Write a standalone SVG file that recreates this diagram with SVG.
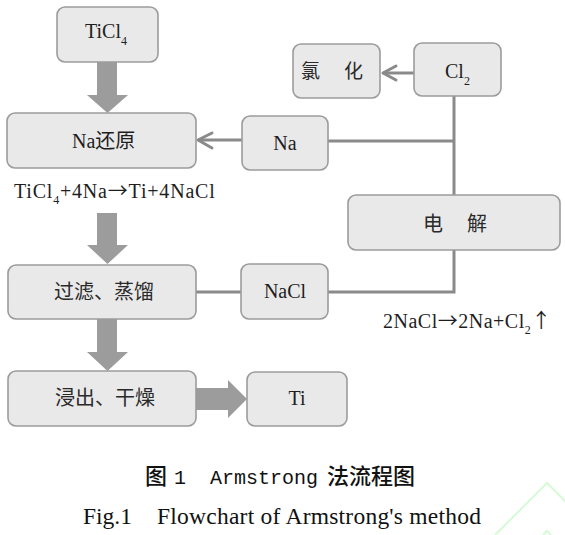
<svg xmlns="http://www.w3.org/2000/svg" width="565" height="535" viewBox="0 0 565 535">
<style>
.box{fill:#e9e9e9;stroke:#9c9c9c;stroke-width:1.6}
.lat{font-family:"Liberation Serif","Noto Sans CJK SC",serif;font-size:20px;fill:#1e1e1e}
.cjk{font-family:"Noto Sans CJK SC",sans-serif;font-size:20px;fill:#2a2a2a}
.sub{font-size:12px}
.arr{font-family:"Noto Sans CJK SC",sans-serif}
.con{fill:none;stroke:#8a8a8a;stroke-width:3;stroke-linejoin:miter}
.chev{fill:none;stroke:#8a8a8a;stroke-width:3;stroke-linecap:round;stroke-linejoin:round}
.big{fill:#9c9c9c}
</style>
<rect width="565" height="535" fill="#ffffff"/>
<g id="connectors">
<polygon class="big" points="97,62 117,62 117,95 128,95 107.5,113 87,95 97,95"/>
<polygon class="big" points="97,213 117,213 117,245 128,245 107.5,264 87,245 97,245"/>
<polygon class="big" points="97,319 117,319 117,352 128,352 107.5,371 87,352 97,352"/>
<polygon class="big" points="196,388 228,388 228,380 247,399 228,418 228,410 196,410"/>
<line class="con" x1="414" y1="73" x2="383" y2="73"/>
<polyline class="chev" points="396,66 383,73 396,80"/>
<line class="con" x1="242" y1="140" x2="198" y2="140"/>
<polyline class="chev" points="212,133 198,140 212,148"/>
<line class="con" x1="454" y1="96" x2="454" y2="195"/>
<line class="con" x1="328" y1="141" x2="454" y2="141"/>
<polyline class="con" points="454,250 454,292 328,292"/>
<line class="con" x1="241" y1="292" x2="196" y2="292"/>
</g>
<g id="n-ticl4"><rect class="box" x="57" y="7" width="101" height="55" rx="8"/><text class="lat" x="85" y="38">TiCl<tspan class="sub" dy="7">4</tspan></text></g>
<g id="n-nared"><rect class="box" x="7" y="113" width="189" height="55" rx="8"/><text class="lat" x="72" y="148">Na还原</text></g>
<g id="n-na"><rect class="box" x="242" y="116" width="86" height="54" rx="8"/><text class="lat" x="285" y="150" text-anchor="middle">Na</text></g>
<g id="n-chlor"><rect class="box" x="293" y="44" width="87" height="54" rx="8"/><text class="cjk" y="78" style="font-size:19px"><tspan x="301">氯</tspan><tspan x="344">化</tspan></text></g>
<g id="n-cl2"><rect class="box" x="414" y="43" width="87" height="53" rx="8"/><text class="lat" x="445" y="78">Cl<tspan class="sub" dy="7">2</tspan></text></g>
<g id="n-elec"><rect class="box" x="348" y="195" width="212" height="55" rx="8"/><text class="cjk" y="231"><tspan x="423">电</tspan><tspan x="467">解</tspan></text></g>
<g id="n-filter"><rect class="box" x="8" y="265" width="188" height="54" rx="8"/><text class="cjk" x="104" y="299" text-anchor="middle">过滤、蒸馏</text></g>
<g id="n-nacl"><rect class="box" x="241" y="264" width="87" height="55" rx="8"/><text class="lat" x="285" y="298" text-anchor="middle">NaCl</text></g>
<g id="n-leach"><rect class="box" x="8" y="371" width="188" height="55" rx="8"/><text class="cjk" x="105" y="405" text-anchor="middle">浸出、干燥</text></g>
<g id="n-ti"><rect class="box" x="247" y="372" width="100" height="54" rx="8"/><text class="lat" x="297" y="405" text-anchor="middle">Ti</text></g>
<g id="eq">
<text class="lat" x="14" y="198" style="font-size:20px;letter-spacing:0.8px">TiCl<tspan class="sub" dy="6">4</tspan><tspan dy="-6">+4Na</tspan><tspan class="arr">→</tspan><tspan>Ti+4NaCl</tspan></text>
<text class="lat" x="383" y="328" style="font-size:20px;letter-spacing:0.5px">2NaCl<tspan class="arr">→</tspan><tspan>2Na+Cl</tspan><tspan class="sub" dy="6">2</tspan><tspan class="arr" dy="-6">↑</tspan></text>
</g>
<g id="caption">
<text y="484" style="font-family:'Noto Sans CJK SC',sans-serif;font-size:22px;font-weight:500;fill:#111"><tspan x="145">图</tspan><tspan x="327">法流程图</tspan></text>
<text y="484" style="font-family:'Liberation Mono',monospace;font-size:20px;fill:#111"><tspan x="174">1</tspan><tspan x="210">Armstrong</tspan></text>
<text y="524" style="font-family:'Liberation Serif',serif;font-size:23.5px;fill:#111"><tspan x="83">Fig.1</tspan><tspan x="157" textLength="324">Flowchart of Armstrong's method</tspan></text>
</g>
<g id="watermark" fill="none" stroke="#d6fbd6" stroke-width="2">
<polyline points="495,535 547,483 600,536"/>
<polyline points="543,535 547,531 551,535"/>
</g>
</svg>
